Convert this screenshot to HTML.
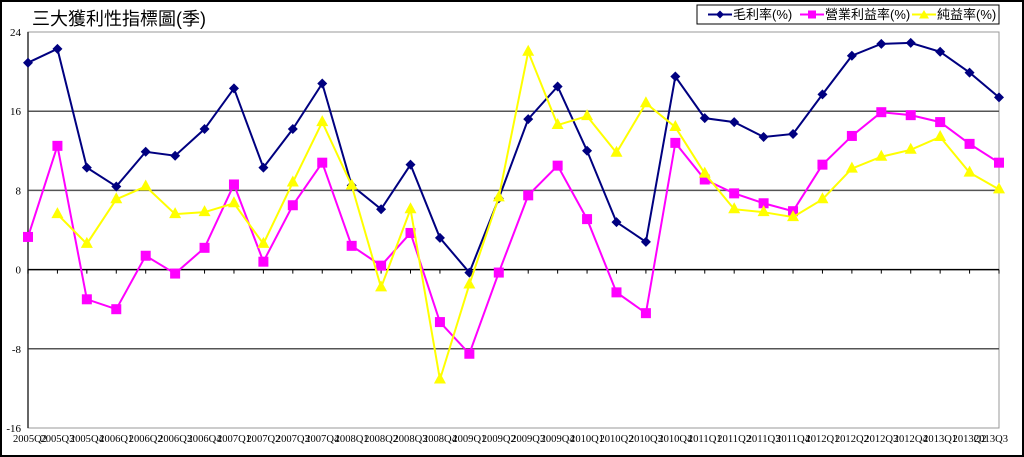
<!DOCTYPE html>
<html><head><meta charset="utf-8"><style>
html,body{margin:0;padding:0;background:#fff;}
svg{display:block;}
</style></head><body>
<svg id="chart" width="1024" height="457" viewBox="0 0 1024 457" xmlns="http://www.w3.org/2000/svg">
<rect x="1" y="1" width="1022" height="455" fill="#fff" stroke="#000" stroke-width="2"/>
<text x="32" y="25" font-family="'Liberation Sans','Noto Sans CJK TC',sans-serif" font-size="18" fill="#000">三大獲利性指標圖(季)</text>
<g>
<rect x="697" y="5" width="302" height="19" fill="#fff" stroke="#000" stroke-width="1"/>
<g>
<line x1="708" y1="14.5" x2="732" y2="14.5" stroke="#000080" stroke-width="2"/>
<path d="M720 10.5 L724 14.5 L720 18.5 L716 14.5Z" fill="#000080"/>
<text x="733" y="19" font-family="'Liberation Sans','Noto Sans CJK TC',sans-serif" font-size="13">毛利率(%)</text></g>
<g>
<line x1="800" y1="14.5" x2="824" y2="14.5" stroke="#ff00ff" stroke-width="2"/>
<rect x="808" y="10.5" width="8" height="8" fill="#ff00ff"/>
<text x="825" y="19" font-family="'Liberation Sans','Noto Sans CJK TC',sans-serif" font-size="13">營業利益率(%)</text></g>
<g>
<line x1="912" y1="14.5" x2="936" y2="14.5" stroke="#ffff00" stroke-width="2"/>
<path d="M924 10 L929 18.5 L919 18.5Z" fill="#ffff00"/>
<text x="937" y="19" font-family="'Liberation Sans','Noto Sans CJK TC',sans-serif" font-size="13">純益率(%)</text></g>
</g>
<g id="plot"></g>
</svg>
<script>
const categories=["2005Q2","2005Q3","2005Q4","2006Q1","2006Q2","2006Q3","2006Q4","2007Q1","2007Q2","2007Q3","2007Q4","2008Q1","2008Q2","2008Q3","2008Q4","2009Q1","2009Q2","2009Q3","2009Q4","2010Q1","2010Q2","2010Q3","2010Q4","2011Q1","2011Q2","2011Q3","2011Q4","2012Q1","2012Q2","2012Q3","2012Q4","2013Q1","2013Q2","2013Q3"];
const grossMargin=[20.9,22.3,10.3,8.4,11.9,11.5,14.2,18.3,10.3,14.2,18.8,8.5,6.1,10.6,3.2,-0.3,7.2,15.2,18.5,12.0,4.8,2.8,19.5,15.3,14.9,13.4,13.7,17.7,21.6,22.8,22.9,22.0,19.9,17.4];
const operatingMargin=[3.3,12.5,-3.0,-4.0,1.4,-0.4,2.2,8.6,0.8,6.5,10.8,2.4,0.4,3.7,-5.3,-8.5,-0.3,7.5,10.5,5.1,-2.3,-4.4,12.8,9.1,7.7,6.7,5.9,10.6,13.5,15.9,15.6,14.9,12.7,10.8];
const netMargin=[null,5.6,2.6,7.1,8.4,5.6,5.8,6.7,2.6,8.8,14.9,8.5,-1.8,6.1,-11.1,-1.5,7.3,22.0,14.6,15.5,11.8,16.8,14.4,9.7,6.1,5.8,5.3,7.1,10.2,11.4,12.1,13.4,9.8,8.1];
const yTicks=[24,16,8,0,-8,-16];

const NS="http://www.w3.org/2000/svg";
const L=28,R=999,T=32,B=428,YMIN=-16,YMAX=24;
const xs=i=>L+i*(R-L)/(categories.length-1);
const ys=v=>T+(YMAX-v)/(YMAX-YMIN)*(B-T);
const plot=document.getElementById('plot');
function mk(tag,attrs,parent){const e=document.createElementNS(NS,tag);for(const k in attrs)e.setAttribute(k,attrs[k]);(parent||plot).appendChild(e);return e;}

const frame=mk('rect',{x:L,y:T,width:R-L,height:B-T,fill:'none',stroke:'#999','stroke-width':1});


yTicks.forEach(t=>{
  if(t!==YMAX&&t!==YMIN&&t!==0){
    const g=mk('line',{x1:L,x2:R,y1:ys(t),y2:ys(t),stroke:'#555','stroke-width':1.5});
    
    
  }
  const lb=mk('text',{x:L-7,y:ys(t)+4,'text-anchor':'end','font-family':"'Liberation Serif',serif",'font-size':11});
  
  
  lb.textContent=t;
});
const yAxis=mk('line',{x1:L,x2:L,y1:T,y2:B,stroke:'#333','stroke-width':1.5});


const zero=mk('line',{x1:L,x2:R,y1:ys(0),y2:ys(0),stroke:'#000','stroke-width':1.5});


categories.forEach((c,i)=>{
  const tk=mk('line',{x1:xs(i),x2:xs(i),y1:ys(0),y2:ys(0)+4,stroke:'#000'});
  
  
  const lb=mk('text',{x:xs(i)+(i===0?-15:0)+(i===categories.length-1?-8:0),y:442,'text-anchor':i===0?'start':'middle','font-family':"'Liberation Serif',serif",'font-size':10,textLength:34,lengthAdjust:'spacingAndGlyphs'});
  
  
  lb.textContent=c;
});
function series(vals,color,shape,name){
  let d='',pen=false;
  vals.forEach((v,i)=>{if(v===null){pen=false;return;}d+=(pen?'L':'M')+xs(i)+' '+ys(v)+' ';pen=true;});
  const p=mk('path',{d:d,fill:'none',stroke:color,'stroke-width':2});
  
  
  vals.forEach((v,i)=>{
    if(v===null)return;
    const x=xs(i),y=ys(v);let m;
    if(shape==='d')m=mk('path',{d:`M${x} ${y-5}L${x+5} ${y}L${x} ${y+5}L${x-5} ${y}Z`,fill:color});
    else if(shape==='s')m=mk('rect',{x:x-5,y:y-5,width:10,height:10,fill:color});
    else m=mk('path',{d:`M${x} ${y-7}L${x+6} ${y+4}L${x-6} ${y+4}Z`,fill:color});
    
    
  });
}
series(grossMargin,'#000080','d','gross-margin');
series(operatingMargin,'#ff00ff','s','operating-margin');
series(netMargin,'#ffff00','t','net-margin');
</script>
</body></html>
